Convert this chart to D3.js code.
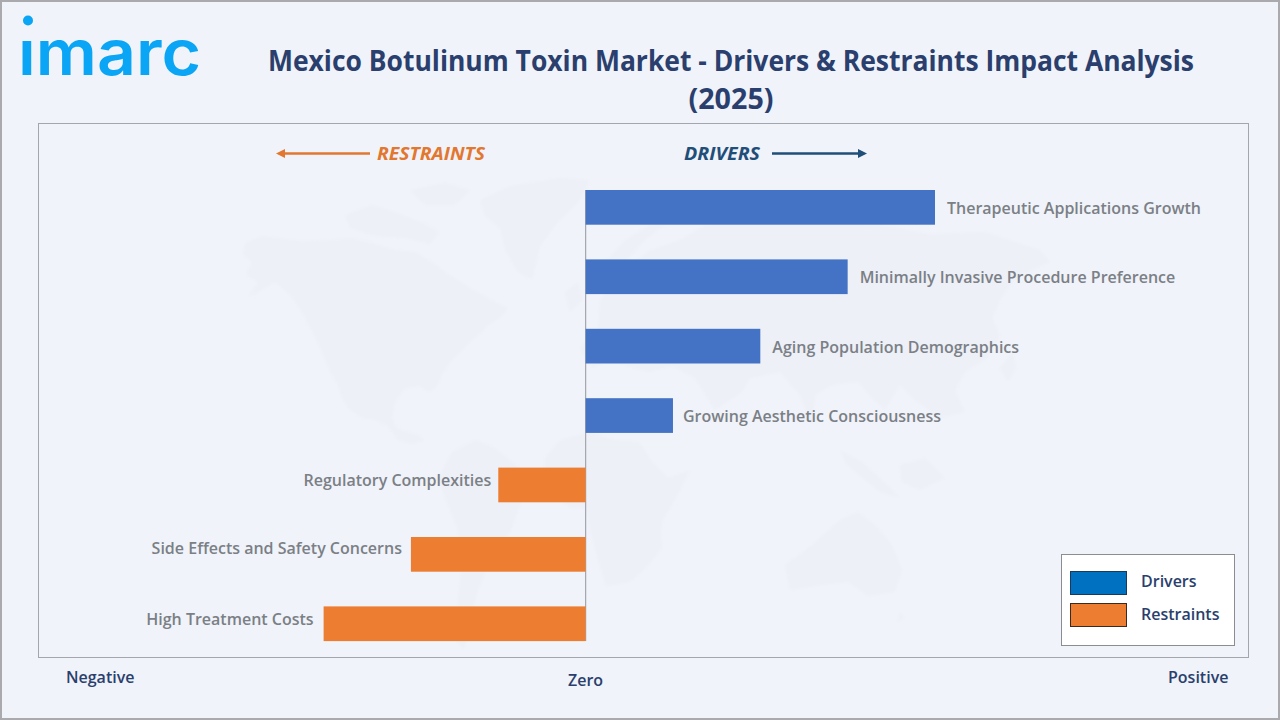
<!DOCTYPE html>
<html><head><meta charset="utf-8">
<script src="https://cdn.jsdelivr.net/npm/d3@7/dist/d3.min.js"></script>
<style>
html,body{margin:0;padding:0;background:#f0f3f9;overflow:hidden}
svg{display:block}
text{font-family:"Open Sans","Noto Sans",sans-serif}
</style></head><body>
<svg id="c" width="1280" height="720"></svg>
<script>
const categories=["Therapeutic Applications Growth","Minimally Invasive Procedure Preference","Aging Population Demographics","Growing Aesthetic Consciousness","Regulatory Complexities","Side Effects and Safety Concerns","High Treatment Costs"];
const impactValues=[4,3,2,1,-1,-2,-3];
const titleLines=["Mexico Botulinum Toxin Market - Drivers & Restraints Impact Analysis","(2025)"];
const axisLabels=["Negative","Zero","Positive"];
const legendNames=["Drivers","Restraints"];

const navy="#2a3f6d",grey="#7b7f86",frame="#a3a6ad";
const barBlue="#4472c4",barOrange="#ed7d31";
const svg=d3.select("#c");
const defs=svg.append("defs");
defs.append("filter").attr("id","soft").append("feGaussianBlur").attr("stdDeviation",1.8);

// page frame
svg.append("rect").attr("x",1).attr("y",1).attr("width",1278).attr("height",718).attr("fill","#f0f3f9").attr("stroke","#a9a9ae").attr("stroke-width",2);

// watermark world map (decorative backdrop)
const land=[
"M245,243L262,236L300,241L330,240L352,238L372,243L395,250L415,252L432,262L445,272L458,280L470,288L497,303L508,308L500,318L488,325L482,332L470,342L462,350L450,362L442,375L436,388L428,392L420,386L405,388L395,402L392,418L398,432L388,426L376,420L362,418L348,408L342,398L338,385L330,372L322,352L314,335L304,316L292,297L275,282L258,292L248,297L258,282L246,275L252,262L243,255Z",
"M345,215L372,205L395,212L420,222L440,232L430,244L405,238L375,236L350,228Z",
"M410,190L445,183L470,190L455,205L425,205Z",
"M480,200L510,186L560,178L590,180L580,200L558,222L540,246L532,280L518,272L505,250L500,228L485,216Z",
"M388,426L402,430L420,436L425,440L412,444L398,440Z",
"M452,452L476,440L495,448L512,462L530,476L522,500L512,528L500,548L488,565L478,590L470,620L464,650L456,640L458,600L462,560L458,530L446,500L438,478Z",
"M545,458L560,440L590,432L615,440L640,442L652,462L668,478L690,470L680,490L668,512L660,525L662,548L648,566L630,582L606,586L598,560L590,530L588,510L572,508L555,498L545,480Z",
"M652,530L662,520L660,545L652,556Z",
"M600,300L612,282L628,268L650,250L680,240L705,225L740,222L790,214L830,222L880,225L930,234L985,232L1040,250L1050,262L1015,278L1000,300L992,318L1000,336L985,360L965,372L955,390L965,412L940,418L915,400L900,385L885,410L872,398L858,382L832,385L815,395L812,425L800,395L780,372L750,378L742,392L715,410L695,378L672,366L650,372L632,368L610,360L592,368L580,348L598,330Z",
"M605,262L625,240L650,225L668,222L645,240L625,262L608,280Z",
"M565,292L578,282L582,300L570,312Z",
"M840,450L862,462L882,480L900,498L880,492L860,476L846,464Z",
"M900,465L925,458L945,478L920,490L902,482Z",
"M812,545L840,520L858,512L875,525L892,545L902,570L895,592L868,596L848,582L820,585L790,590L785,565Z",
"M1000,368L1012,352L1016,368L1008,382Z",
"M900,612L905,618L897,622Z"];
svg.append("g").attr("filter","url(#soft)").selectAll("path").data(land).join("path").attr("d",d=>d).attr("fill","#edf0f7");

// logo
defs.append("clipPath").attr("id","logoClip").append("rect").attr("x",15).attr("y",38).attr("width",195).attr("height",45);
svg.append("circle").attr("cx",28).attr("cy",20.5).attr("r",5).attr("fill","#0aa5f5");
svg.append("text").attr("clip-path","url(#logoClip)").attr("x",18).attr("y",75).attr("textLength",183).attr("lengthAdjust","spacingAndGlyphs")
  .attr("font-size",63).attr("font-weight",600).attr("fill","#0aa5f5").style("font-family","Inter").text("imarc");

// title
svg.append("g").selectAll("text").data(titleLines).join("text")
  .attr("x",731).attr("y",(d,i)=>70.5+i*38).attr("text-anchor","middle").attr("font-size",28).attr("font-weight",700)
  .attr("textLength",(d,i)=>i?85:926).attr("lengthAdjust","spacingAndGlyphs").attr("fill",navy).text(d=>d);

// plot frame
svg.append("rect").attr("x",38.5).attr("y",123.5).attr("width",1210).attr("height",534).attr("fill","none").attr("stroke",frame).attr("stroke-width",1);

// scales
const x=d3.scaleLinear().domain([-3,4]).range([323.6,935]);
const y=d3.scaleBand().domain(categories).range([172.65,658.45]).paddingInner(.5).paddingOuter(.25);
const rows=categories.map((c,i)=>({c,v:impactValues[i]}));

// zero line
svg.append("line").attr("x1",x(0)).attr("x2",x(0)).attr("y1",190).attr("y2",641).attr("stroke",frame).attr("stroke-width",1.2);

// bars
svg.append("g").selectAll("rect").data(rows).join("rect")
  .attr("x",d=>Math.min(x(0),x(d.v))).attr("width",d=>Math.abs(x(d.v)-x(0)))
  .attr("y",d=>y(d.c)).attr("height",y.bandwidth())
  .attr("fill",d=>d.v>0?barBlue:barOrange);

// bar labels: the source places each label by hand, so small per-row nudges apply
const labelDx=[12,12,12,10,-7,-9,-10];
const labelDy=[7,6,7,6,1,0,1.5];
svg.append("g").selectAll("text").data(rows).join("text")
  .attr("x",(d,i)=>x(d.v)+labelDx[i])
  .attr("y",(d,i)=>y(d.c)+y.bandwidth()/2+labelDy[i])
  .attr("text-anchor",d=>d.v>0?"start":"end")
  .attr("font-size",16).attr("font-weight",600).attr("fill",grey).text(d=>d.c);

// direction arrows
function arrow(x1,x2,yy,col){
  svg.append("line").attr("x1",x1).attr("x2",x2).attr("y1",yy).attr("y2",yy).attr("stroke",col).attr("stroke-width",2.6);
  const s=x2>x1?1:-1;
  svg.append("path").attr("d",d3.line()([[x2+s*8,yy],[x2-s*1,yy-4.5],[x2-s*1,yy+4.5]])+"Z").attr("fill",col);
}
arrow(370,284,153.5,"#e2772f");
arrow(772,859,153.5,"#1f4e79");
svg.append("text").attr("x",377).attr("y",159.5).attr("font-size",18.5).attr("font-weight",700).attr("font-style","italic").attr("textLength",108).attr("lengthAdjust","spacingAndGlyphs").attr("fill","#e2772f").text("RESTRAINTS");
svg.append("text").attr("x",684).attr("y",159.5).attr("font-size",18.5).attr("font-weight",700).attr("font-style","italic").attr("textLength",76).attr("lengthAdjust","spacingAndGlyphs").attr("fill","#1f4e79").text("DRIVERS");

// legend
svg.append("rect").attr("x",1061.5).attr("y",554.5).attr("width",173).attr("height",91).attr("fill","#fff").attr("stroke","#8a8d93");
const lg=svg.append("g").selectAll("g").data(legendNames).join("g");
lg.append("rect").attr("x",1070.5).attr("y",(d,i)=>571.5+i*32).attr("width",56).attr("height",23)
  .attr("fill",(d,i)=>i?"#ed7d31":"#0070c0").attr("stroke",(d,i)=>i?"#3b2a20":"#1a3a5c");
lg.append("text").attr("x",1141).attr("y",(d,i)=>587+i*33).attr("font-size",16).attr("font-weight",600).attr("fill",navy).text(d=>d);

// axis captions
svg.append("g").selectAll("text").data(axisLabels).join("text")
  .attr("x",(d,i)=>[66,568,1168][i]).attr("y",(d,i)=>[683,685.5,682.5][i])
  .attr("font-size",16).attr("font-weight",600).attr("fill",navy).text(d=>d);
</script></body></html>
